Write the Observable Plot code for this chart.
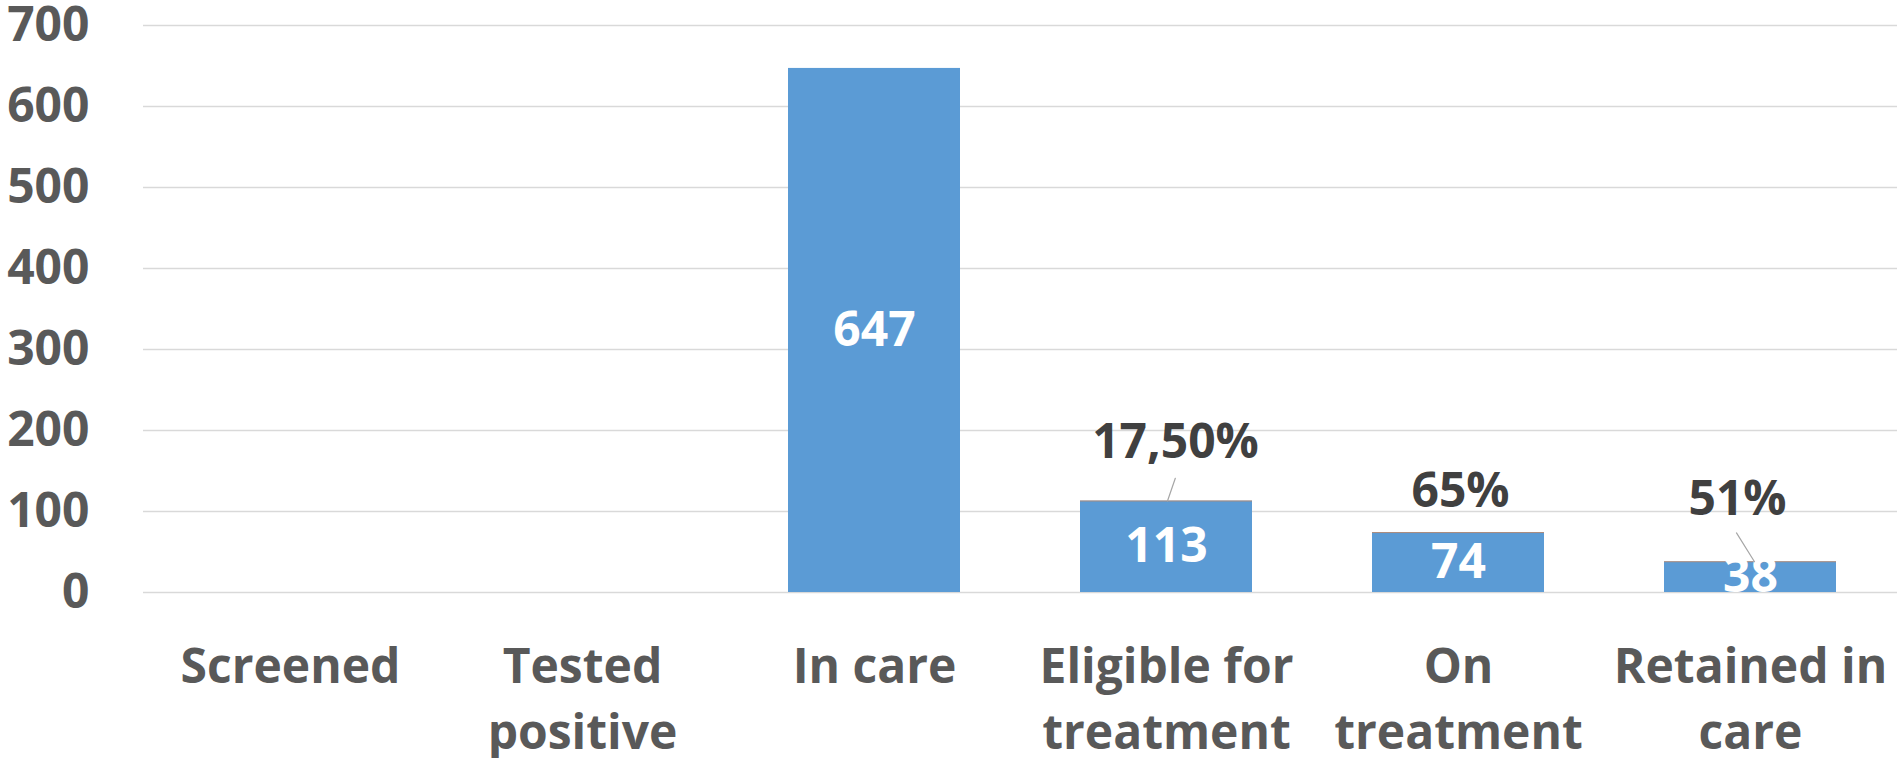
<!DOCTYPE html>
<html><head><meta charset="utf-8">
<script src="https://cdn.jsdelivr.net/npm/d3@7"></script>
<script src="https://cdn.jsdelivr.net/npm/@observablehq/plot@0.6"></script>
<style>html,body{margin:0;padding:0;background:#fff;} #chart svg{display:block}</style>
</head><body><div id="chart"></div>
<script>
// ---- data ----
const categories = ["Screened", "Tested positive", "In care", "Eligible for treatment", "On treatment", "Retained in care"];
const tickLabels = ["Screened", "Tested\npositive", "In care", "Eligible for\ntreatment", "On\ntreatment", "Retained in\ncare"];
const counts = [null, null, 647, 113, 74, 38];
const percentLabels = [null, null, null, "17,50%", "65%", "51%"];
const yTicks = [0, 100, 200, 300, 400, 500, 600, 700];

// ---- styles (label placement offsets, px) ----
const pctStyle = {
  "Eligible for treatment": {dx: 9, dy: -58, leader: {dx: 1, length: 24, rotate: 19}},
  "On treatment": {dx: 2, dy: -41, leader: null},
  "Retained in care": {dx: -13, dy: -62, leader: {dx: 4, length: 34, rotate: -32}}
};

const rows = categories.map((c, i) => ({cat: c, label: tickLabels[i], count: counts[i], pct: percentLabels[i]}));
const barRows = rows.filter(d => d.count != null);
const pctRows = rows.filter(d => d.pct != null);
const labelOf = new Map(rows.map(d => [d.cat, d.label]));

const FONT = 48;
const pctMarks = [];
for (const d of pctRows) {
  const s = pctStyle[d.cat];
  pctMarks.push(Plot.text([d], {x: "cat", y: "count", text: "pct", dx: s.dx, dy: s.dy,
    fill: "#404040", fontSize: FONT, fontWeight: "bold"}));
  if (s.leader) {
    const L = s.leader;
    pctMarks.push(Plot.vector([d], {x: "cat", y: "count", dx: L.dx, length: L.length, rotate: L.rotate,
      anchor: "start", stroke: "#A6A6A6", strokeWidth: 1.2,
      shape: {draw(ctx, l) { ctx.moveTo(0, 0); ctx.lineTo(0, -l); }}}));
  }
}

const chart = Plot.plot({
  width: 1897,
  height: 758,
  marginTop: 25,
  marginBottom: 166,
  marginLeft: 143,
  marginRight: 0,
  style: {fontFamily: "'Open Sans', sans-serif", background: "#fff", overflow: "visible"},
  x: {domain: categories, paddingInner: 0.41, paddingOuter: 0.205},
  y: {domain: [0, 700]},
  marks: [
    Plot.gridY(yTicks, {stroke: "#D9D9D9", strokeOpacity: 1, strokeWidth: 1.5}),
    Plot.axisY(yTicks, {tickSize: 0, tickPadding: 54, fontSize: FONT, fontWeight: "bold", color: "#595959", label: null}),
    Plot.axisX({tickSize: 0, tickPadding: 44, fontSize: FONT, fontWeight: "bold", color: "#595959",
      lineHeight: 1.375, label: null, tickFormat: c => labelOf.get(c)}),
    Plot.barY(barRows, {x: "cat", y: "count", fill: "#5B9BD5"}),
    Plot.tickY(pctRows, {x: "cat", y: "count", stroke: "#ED7D31", strokeOpacity: 0.55, strokeWidth: 1}),
    Plot.text(barRows, {x: "cat", y: d => d.count / 2, text: d => String(d.count), fill: "white", fontSize: FONT, fontWeight: "bold"}),
    ...pctMarks
  ]
});
document.getElementById("chart").appendChild(chart);
</script>
</body></html>
